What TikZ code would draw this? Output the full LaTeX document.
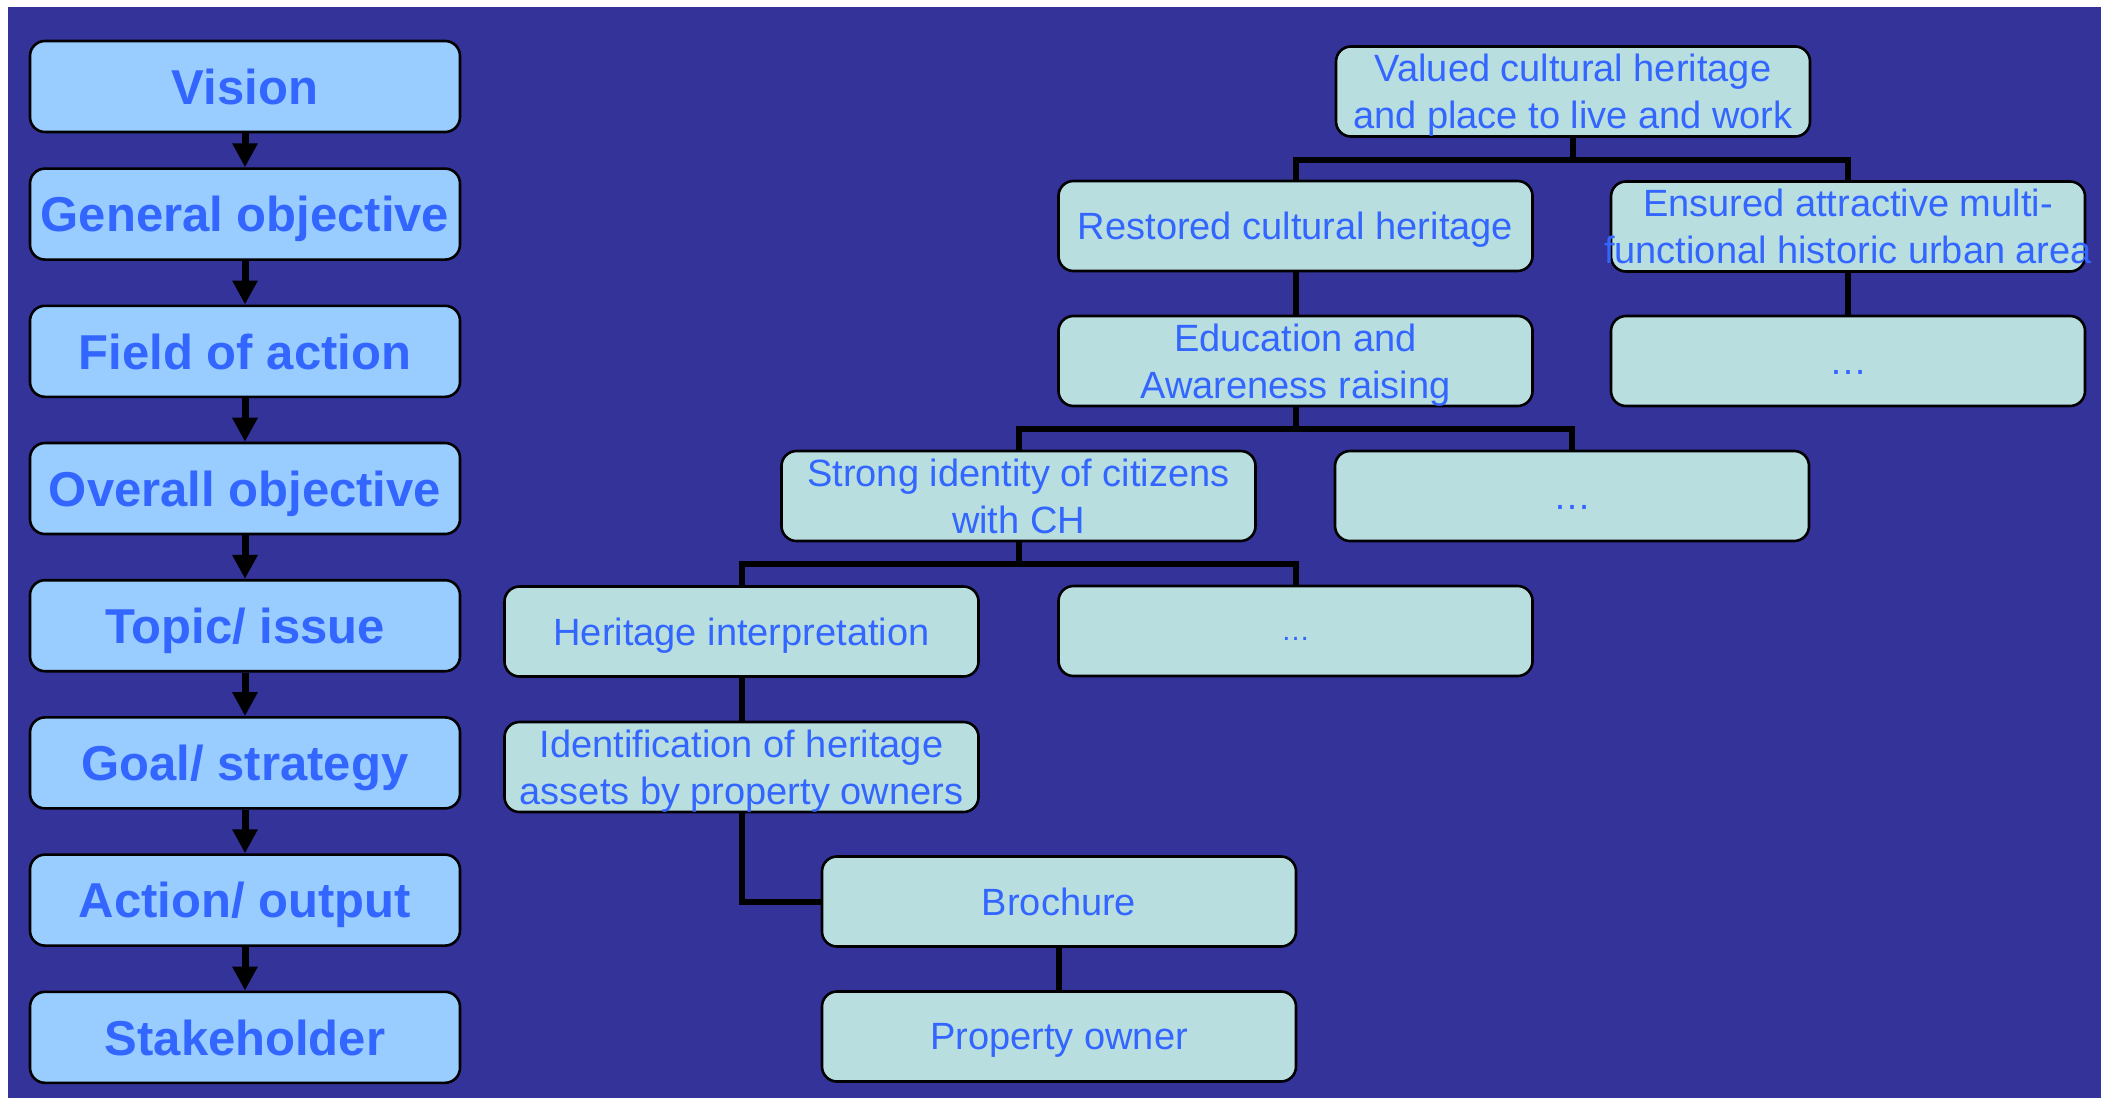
\documentclass[tikz,border=0pt]{standalone}
\usepackage{fontspec}
\setmainfont{Liberation Sans}
\usepackage{tikz}
\usetikzlibrary{positioning, arrows.meta}
\definecolor{bgblue}{HTML}{333399}
\definecolor{stagefill}{HTML}{99CCFF}
\definecolor{boxfill}{HTML}{B9DEDF}
\definecolor{textblue}{HTML}{3366FF}
\tikzstyle{stage} = [rectangle, rounded corners=7.5pt, minimum width=215pt, minimum height=45.5pt, inner sep=0pt, text depth=0pt, text centered, draw=black, line width=1.3pt, fill=stagefill, text=textblue, font=\bfseries\fontsize{24.5}{29}\selectfont]
\tikzstyle{box} = [rectangle, rounded corners=7.5pt, minimum width=237pt, minimum height=45pt, inner sep=0pt, text depth=0pt, align=center, draw=black, line width=1.3pt, fill=boxfill, text=textblue, font=\fontsize{19}{23.5}\selectfont]
\tikzstyle{arrow} = [line width=3.5pt, -{Triangle[width=12pt,length=12pt]}]
\tikzstyle{link} = [line width=3pt]
\def\gap{21.8pt}
\def\drop{22}

\begin{document}
\begin{tikzpicture}[x=0.5pt, y=-0.5pt]
\useasboundingbox (0,0) rectangle (2107,1098);
\fill [bgblue] (8,7) rectangle (2101,1098);

% planning levels
\node (vision) [stage] at (245,86.5) {Vision};
\node (general) [stage, below=17pt of vision] {General objective};
\node (field) [stage, below=\gap of general] {Field of action};
\node (overall) [stage, below=\gap of field] {Overall objective};
\node (topic) [stage, below=\gap of overall] {Topic/ issue};
\node (goal) [stage, below=\gap of topic] {Goal/ strategy};
\node (action) [stage, below=\gap of goal] {Action/ output};
\node (holder) [stage, below=\gap of action] {Stakeholder};

\draw [arrow] (vision) -- (general);
\draw [arrow] (general) -- (field);
\draw [arrow] (field) -- (overall);
\draw [arrow] (overall) -- (topic);
\draw [arrow] (topic) -- (goal);
\draw [arrow] (goal) -- (action);
\draw [arrow] (action) -- (holder);

% example tree
\node (valued) [box] at (1573,91.5) {Valued cultural heritage\\and place to live and work};
\node (restored) [box] at (1295.5,226) {Restored cultural heritage};
\node (ensured) [box] at (1848,226.5) {\makebox[0pt]{Ensured attractive multi-}\\\makebox[0pt]{functional historic urban area}};
\node (education) [box] at (1295.5,361) {Education and\\Awareness raising};
\node (dotsA) [box] at (1848,361) {…\vphantom{Ag}};
\node (strong) [box] at (1018.5,496) {Strong identity of citizens\\with CH};
\node (dotsB) [box] at (1572,496) {…\vphantom{Ag}};
\node (heritage) [box] at (741.5,631.5) {Heritage interpretation};
\node (dotsC) [box, font=\fontsize{14.5}{17}\selectfont] at (1295.5,631) {…\vphantom{Ag}};
\node (ident) [box] at (741.5,767) {Identification of heritage\\assets by property owners};
\node (brochure) [box] at (1059,901.5) {Brochure};
\node (owner) [box] at (1059,1036.5) {Property owner};

\draw [link] (valued.south) -- ++(0,\drop) -| (restored.north);
\draw [link] (valued.south) -- ++(0,\drop) -| (ensured.north);
\draw [link] (restored) -- (education);
\draw [link] (ensured) -- (dotsA);
\draw [link] (education.south) -- ++(0,\drop) -| (strong.north);
\draw [link] (education.south) -- ++(0,\drop) -| (dotsB.north);
\draw [link] (strong.south) -- ++(0,\drop) -| (heritage.north);
\draw [link] (strong.south) -- ++(0,\drop) -| (dotsC.north);
\draw [link] (heritage) -- (ident);
\draw [link] (ident.south) |- (brochure.west);
\draw [link] (brochure) -- (owner);

\end{tikzpicture}
\end{document}
